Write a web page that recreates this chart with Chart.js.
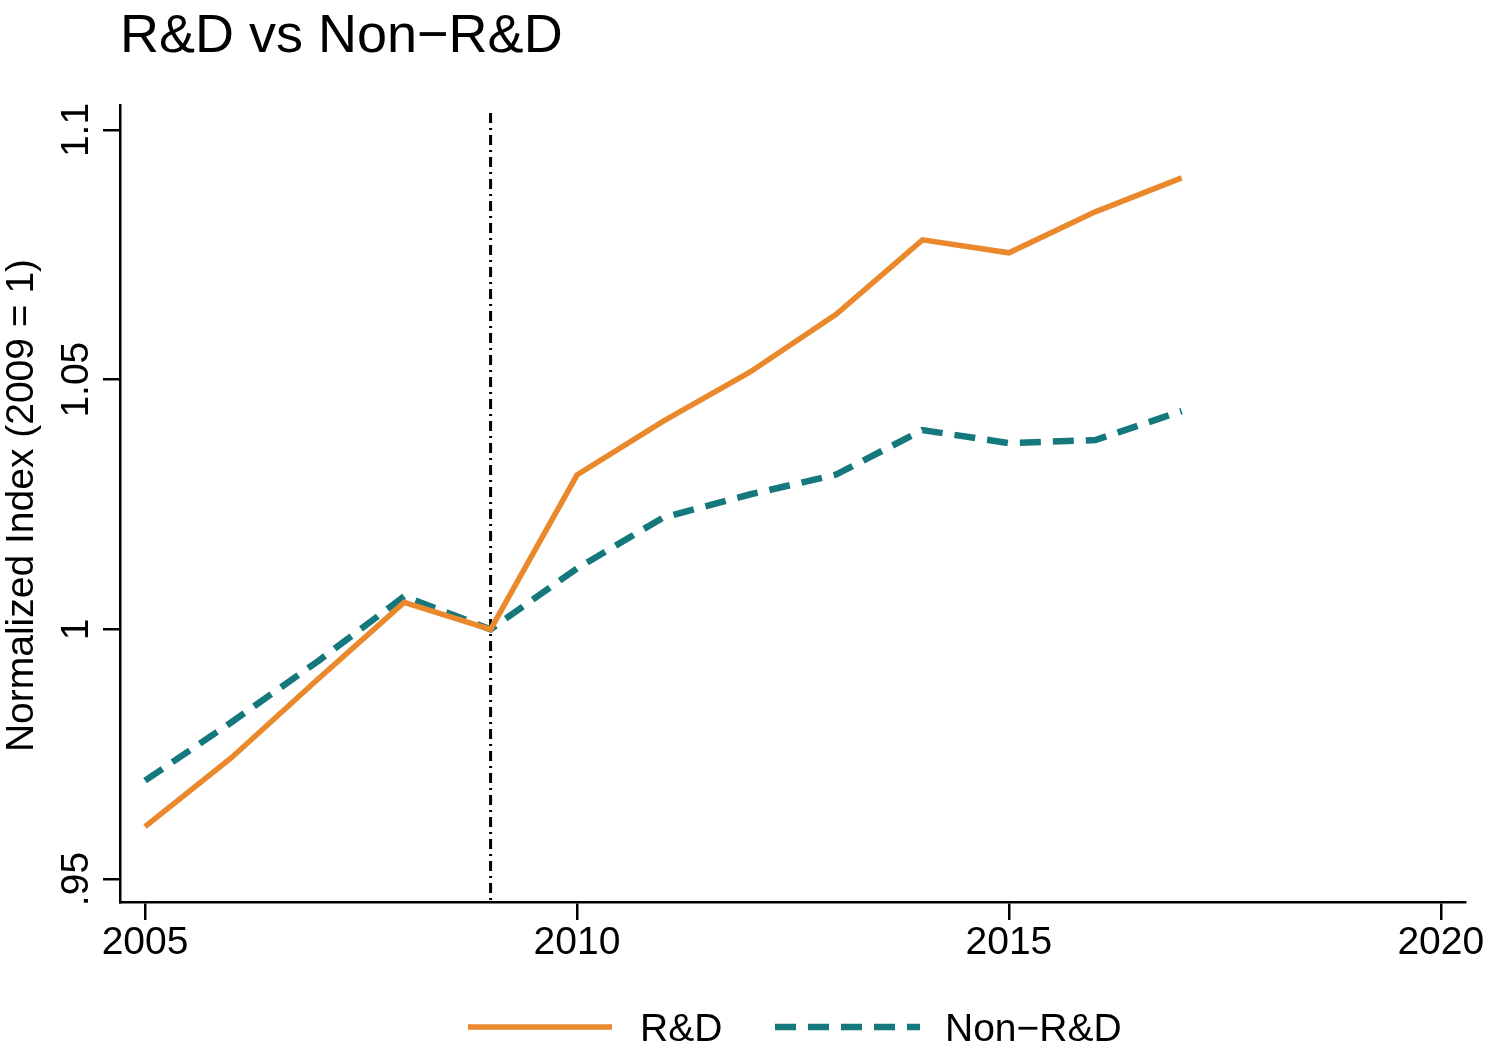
<!DOCTYPE html>
<html lang="en">

<head>
  <meta charset="UTF-8" />
  <title>R&amp;D vs Non-R&amp;D</title>
  <script src="https://cdn.jsdelivr.net/npm/chart.js@4.4.1/dist/chart.umd.min.js"></script>
  <style>
    html, body { margin: 0; padding: 0; background: #fff; }
    #wrap { width: 1488px; height: 1048px; }
  </style>
</head>

<body>
  <div id="wrap">
    <canvas id="chart"></canvas>
  </div>

  <script>
    // data
    let years = [2005, 2006, 2007, 2008, 2009, 2010, 2011, 2012, 2013, 2014, 2015, 2016, 2017];
    let rd = [0.9605, 0.9743, 0.9900, 1.0054, 1.0000, 1.0309, 1.0417, 1.0515, 1.0631, 1.0780, 1.0754, 1.0836, 1.0904];
    let nonRd = [0.9697, 0.9814, 0.9936, 1.0066, 1.0000, 1.0122, 1.0224, 1.0270, 1.0310, 1.0399, 1.0373, 1.0379, 1.0437];
    let xTicks = [2005, 2010, 2015, 2020];
    let yTicks = [0.95, 1, 1.05, 1.1];
    let yTickLabels = ['.95', '1', '1.05', '1.1'];
    let baseYear = 2009;

    const font = '"Liberation Sans", Arial, Helvetica, sans-serif';
    const orange = '#EA892C';
    const teal = '#15787C';

    function toPoints(vals) {
      return years.map((y, i) => ({ x: y, y: vals[i] }));
    }

    // title, rotated y labels, base-year line and legend
    const extras = {
      id: 'extras',
      beforeDatasetsDraw(chart) {
        const ctx = chart.ctx;
        const x = chart.scales.x.getPixelForValue(baseYear);
        ctx.save();
        ctx.strokeStyle = '#000';
        ctx.lineWidth = 3;
        ctx.setLineDash([10, 5, 2, 5]);
        ctx.beginPath();
        ctx.moveTo(x, 113);
        ctx.lineTo(x, chart.chartArea.bottom);
        ctx.stroke();
        ctx.restore();
      },
      afterDraw(chart) {
        const ctx = chart.ctx;
        const ys = chart.scales.y;
        ctx.save();
        ctx.fillStyle = '#000';

        // title
        ctx.font = '54px ' + font;
        ctx.textAlign = 'left';
        ctx.textBaseline = 'alphabetic';
        ctx.fillText('R&D vs Non\u2212R&D', 120, 52);

        // y tick labels, rotated
        ctx.font = '39px ' + font;
        ctx.textAlign = 'center';
        yTicks.forEach((v, i) => {
          ctx.save();
          ctx.translate(88, ys.getPixelForValue(v));
          ctx.rotate(-Math.PI / 2);
          ctx.fillText(yTickLabels[i], 0, 0);
          ctx.restore();
        });

        // y axis title
        ctx.save();
        ctx.translate(33, (chart.chartArea.top + chart.chartArea.bottom) / 2 + 2);
        ctx.rotate(-Math.PI / 2);
        ctx.fillText('Normalized Index (2009 = 1)', 0, 0);
        ctx.restore();

        // legend
        const items = [
          { x0: 468, x1: 612, tx: 640 },
          { x0: 775, x1: 920, tx: 945 }
        ];
        const ly = 1027;
        chart.data.datasets.forEach((ds, i) => {
          const it = items[i];
          ctx.save();
          ctx.strokeStyle = ds.borderColor;
          ctx.lineWidth = ds.borderWidth;
          ctx.setLineDash(ds.borderDash || []);
          ctx.beginPath();
          ctx.moveTo(it.x0, ly);
          ctx.lineTo(it.x1, ly);
          ctx.stroke();
          ctx.restore();
          ctx.textAlign = 'left';
          ctx.fillText(ds.label, it.tx, ly + 14);
        });
        ctx.restore();
      }
    };

    const ctx = document.getElementById('chart').getContext('2d');
    const chart = new Chart(ctx, {
      type: 'line',
      data: {
        datasets: [{
          label: 'R&D',
          data: toPoints(rd),
          borderColor: orange,
          borderWidth: 5.5,
          pointRadius: 0,
          tension: 0
        }, {
          label: 'Non\u2212R&D',
          data: toPoints(nonRd),
          borderColor: teal,
          borderWidth: 6.5,
          borderDash: [21, 12],
          pointRadius: 0,
          tension: 0
        }]
      },
      options: {
        responsive: true,
        maintainAspectRatio: false,
        animation: false,
        layout: { padding: { top: 105, right: 23, left: 0, bottom: 0 } },
        plugins: {
          legend: { display: false },
          title: { display: false },
          tooltip: { enabled: false }
        },
        scales: {
          x: {
            type: 'linear',
            min: 2004.71,
            max: 2020.28,
            afterBuildTicks: s => { s.ticks = xTicks.map(v => ({ value: v })); },
            afterFit: s => { s.height = 146; },
            ticks: {
              color: '#000',
              font: { family: font, size: 39 },
              padding: 0,
              maxRotation: 0,
              callback: v => String(v)
            },
            grid: {
              drawOnChartArea: false,
              drawTicks: true,
              tickLength: 18,
              color: '#000',
              lineWidth: 2.5
            },
            border: { color: '#000', width: 2.5 }
          },
          y: {
            min: 0.9454,
            max: 1.105,
            afterBuildTicks: s => { s.ticks = yTicks.map(v => ({ value: v })); },
            afterFit: s => { s.width = 120; },
            ticks: { display: false },
            grid: {
              drawOnChartArea: false,
              drawTicks: true,
              tickLength: 17,
              color: '#000',
              lineWidth: 2.5
            },
            border: { color: '#000', width: 2.5 }
          }
        }
      },
      plugins: [extras]
    });
  </script>
</body>

</html>
